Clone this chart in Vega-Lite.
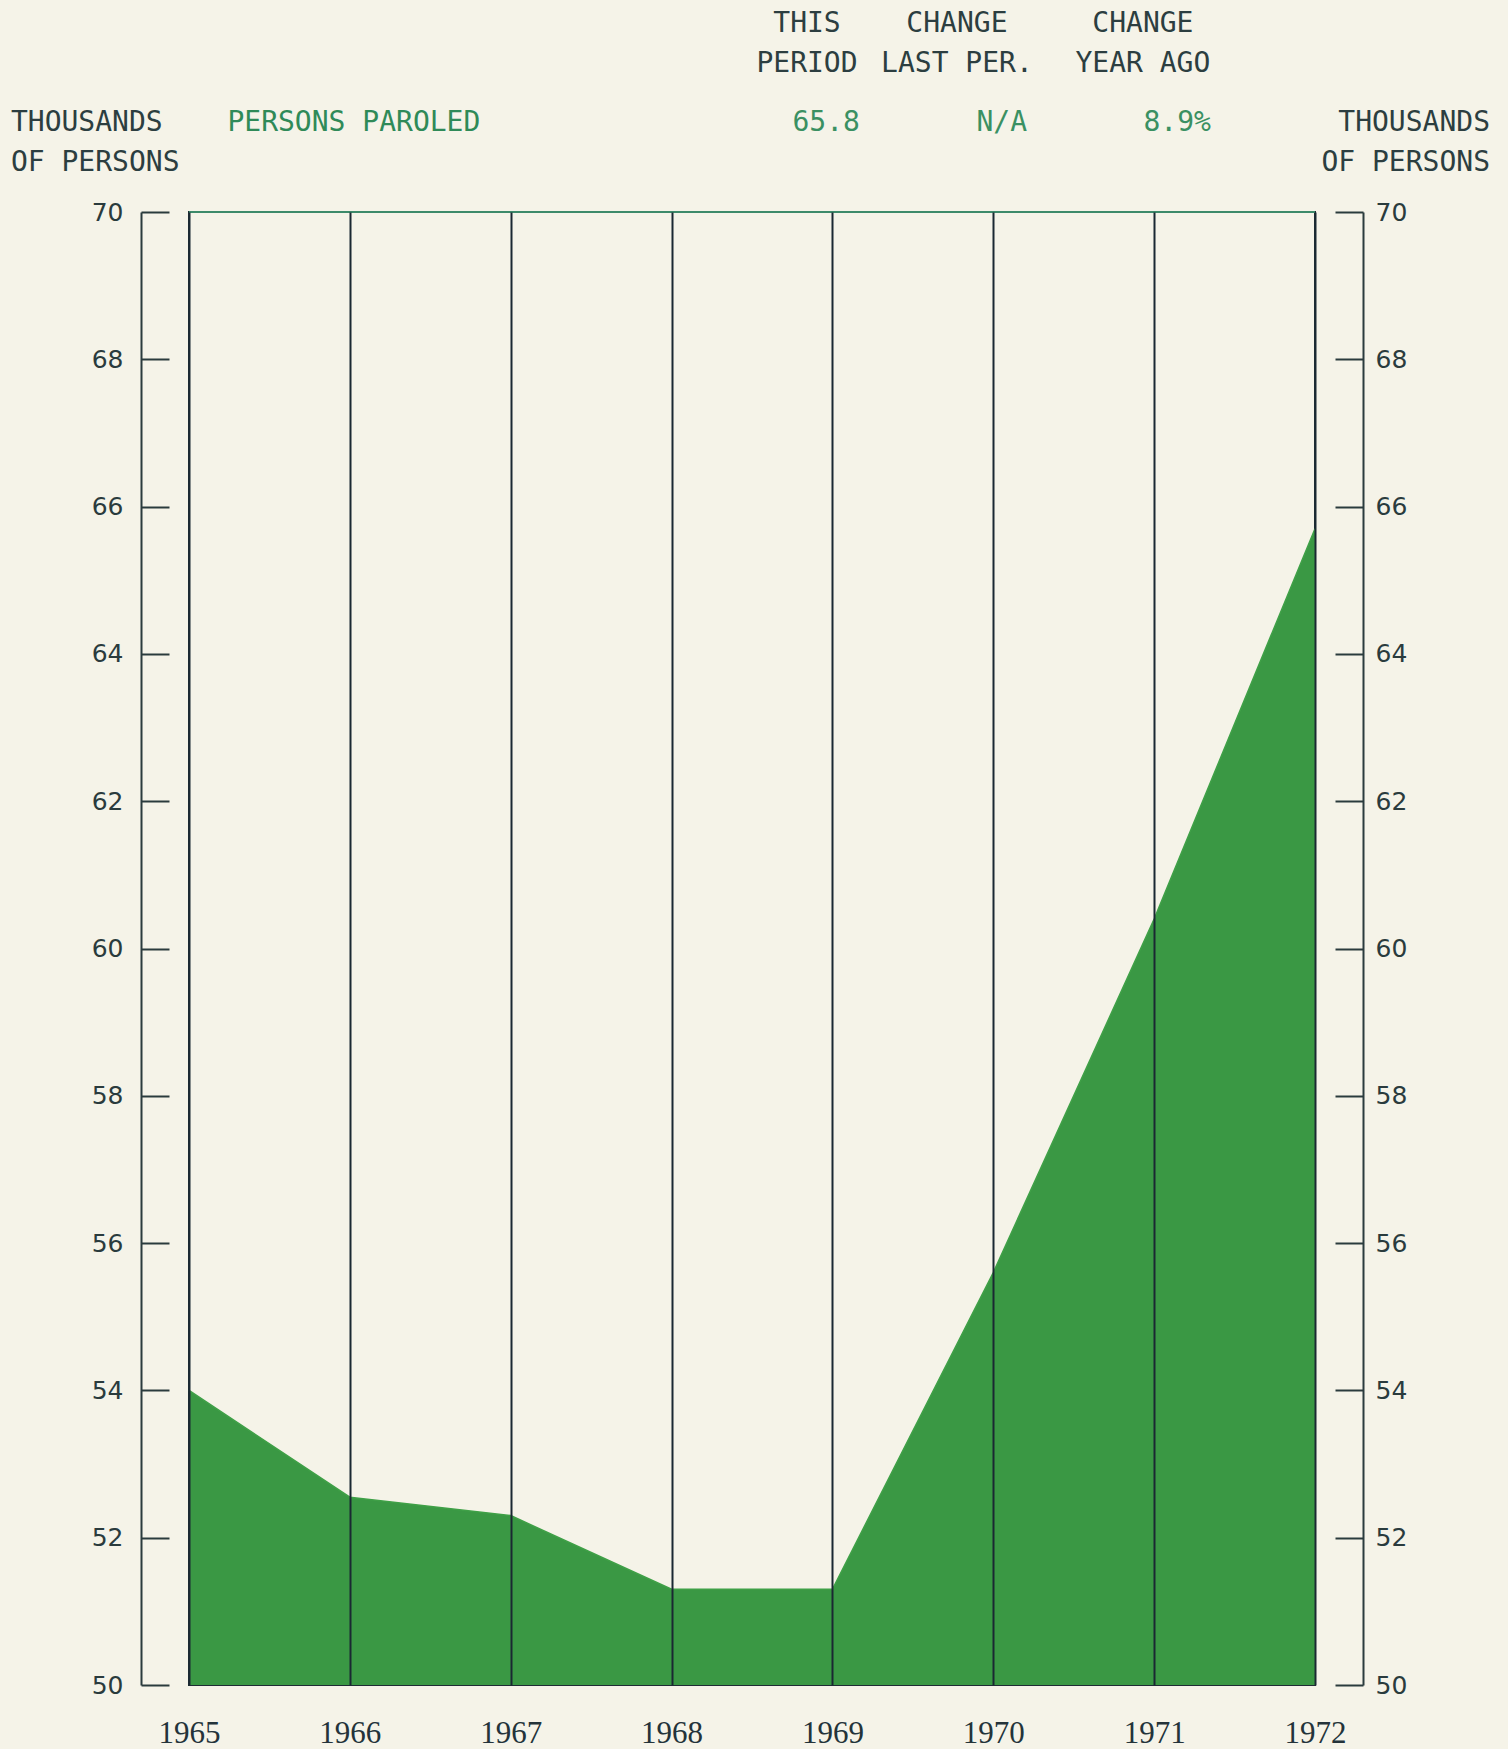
{
  "$schema": "https://vega.github.io/schema/vega-lite/v6.json",
  "autosize": "none",
  "width": 1126,
  "height": 1473,
  "padding": {"left": 189, "top": 212, "right": 193, "bottom": 64},
  "background": "#f5f3e8",
  "config": {
    "view": {"stroke": "#1e2c33", "strokeWidth": 2},
    "font": "DejaVu Sans"
  },
  "data": {
    "values": [
      {"year": 1965, "persons": 54.0},
      {"year": 1966, "persons": 52.55},
      {"year": 1967, "persons": 52.3},
      {"year": 1968, "persons": 51.3},
      {"year": 1969, "persons": 51.3},
      {"year": 1970, "persons": 55.6},
      {"year": 1971, "persons": 60.4},
      {"year": 1972, "persons": 65.7}
    ]
  },
  "resolve": {"axis": {"y": "independent"}},
  "layer": [
    {
      "mark": {"type": "area", "color": "#3a9844", "opacity": 1},
      "encoding": {
        "x": {
          "field": "year", "type": "quantitative",
          "scale": {"domain": [1965, 1972], "nice": false, "zero": false},
          "axis": {
            "values": [1965, 1966, 1967, 1968, 1969, 1970, 1971, 1972],
            "format": "d", "title": null, "grid": true, "gridColor": "#1a2832", "gridWidth": 2,
            "gridOpacity": 1, "domain": false, "ticks": false, "zindex": 1,
            "labelFont": "Liberation Serif", "labelFontSize": 31, "labelFontWeight": 500, "labelColor": "#24333a",
            "labelBaseline": "middle", "labelPadding": 48, "labelFlush": false
          }
        },
        "y": {
          "field": "persons", "type": "quantitative",
          "scale": {"domain": [50, 70], "nice": false, "zero": false},
          "axis": {
            "orient": "left", "offset": 48, "title": null, "grid": false,
            "values": [50, 52, 54, 56, 58, 60, 62, 64, 66, 68, 70],
            "domainColor": "#2a3b3d", "domainWidth": 2,
            "tickColor": "#2a3b3d", "tickWidth": 2, "tickSize": -28,
            "labelFont": "DejaVu Sans", "labelFontSize": 25, "labelColor": "#2a3b3d",
            "labelPadding": 46, "labelFlush": false
          }
        },
        "y2": {"datum": 50}
      }
    },
    {
      "mark": {"type": "line", "color": "#3fa047", "strokeWidth": 1.5},
      "encoding": {
        "x": {"field": "year", "type": "quantitative"},
        "y": {
          "field": "persons", "type": "quantitative",
          "axis": {
            "orient": "right", "offset": 48, "title": null, "grid": false,
            "values": [50, 52, 54, 56, 58, 60, 62, 64, 66, 68, 70],
            "domainColor": "#2a3b3d", "domainWidth": 2,
            "tickColor": "#2a3b3d", "tickWidth": 2, "tickSize": -28,
            "labelFont": "DejaVu Sans", "labelFontSize": 25, "labelColor": "#2a3b3d",
            "labelPadding": 40, "labelFlush": false
          }
        }
      }
    },
    {
      "data": {"values": [{}]},
      "mark": {"type": "rule", "color": "#3d8a6a", "strokeWidth": 2},
      "encoding": {"y": {"datum": 70, "axis": null}}
    },
    {
      "data": {"values": [{}]},
      "mark": {"type": "text", "font": "DejaVu Sans Mono", "fontSize": 28, "color": "#2c3e40", "align": "center", "baseline": "middle", "lineBreak": "\n", "lineHeight": 40, "text": "THIS\nPERIOD"},
      "encoding": {"x": {"datum": 1968.842}, "y": {"datum": 72.546, "axis": null}}
    },
    {
      "data": {"values": [{}]},
      "mark": {"type": "text", "font": "DejaVu Sans Mono", "fontSize": 28, "color": "#2c3e40", "align": "center", "baseline": "middle", "lineBreak": "\n", "lineHeight": 40, "text": "CHANGE\nLAST PER."},
      "encoding": {"x": {"datum": 1969.774}, "y": {"datum": 72.546, "axis": null}}
    },
    {
      "data": {"values": [{}]},
      "mark": {"type": "text", "font": "DejaVu Sans Mono", "fontSize": 28, "color": "#2c3e40", "align": "center", "baseline": "middle", "lineBreak": "\n", "lineHeight": 40, "text": "CHANGE\nYEAR AGO"},
      "encoding": {"x": {"datum": 1970.93}, "y": {"datum": 72.546, "axis": null}}
    },
    {
      "data": {"values": [{}]},
      "mark": {"type": "text", "font": "DejaVu Sans Mono", "fontSize": 28, "color": "#2c3e40", "align": "left", "baseline": "middle", "lineBreak": "\n", "lineHeight": 40, "text": "THOUSANDS\nOF PERSONS"},
      "encoding": {"x": {"datum": 1963.893}, "y": {"datum": 71.212, "axis": null}}
    },
    {
      "data": {"values": [{}]},
      "mark": {"type": "text", "font": "DejaVu Sans Mono", "fontSize": 28, "color": "#2c3e40", "align": "right", "baseline": "middle", "lineBreak": "\n", "lineHeight": 40, "text": "THOUSANDS\nOF PERSONS"},
      "encoding": {"x": {"datum": 1973.088}, "y": {"datum": 71.212, "axis": null}}
    },
    {
      "data": {"values": [{}]},
      "mark": {"type": "text", "font": "DejaVu Sans Mono", "fontSize": 28, "color": "#2f8a58", "align": "left", "baseline": "middle", "text": "PERSONS PAROLED"},
      "encoding": {"x": {"datum": 1965.239}, "y": {"datum": 71.212, "axis": null}}
    },
    {
      "data": {"values": [{}]},
      "mark": {"type": "text", "font": "DejaVu Sans Mono", "fontSize": 28, "color": "#3a9062", "align": "right", "baseline": "middle", "text": "65.8"},
      "encoding": {"x": {"datum": 1969.171}, "y": {"datum": 71.212, "axis": null}}
    },
    {
      "data": {"values": [{}]},
      "mark": {"type": "text", "font": "DejaVu Sans Mono", "fontSize": 28, "color": "#3a9062", "align": "right", "baseline": "middle", "text": "N/A"},
      "encoding": {"x": {"datum": 1970.21}, "y": {"datum": 71.212, "axis": null}}
    },
    {
      "data": {"values": [{}]},
      "mark": {"type": "text", "font": "DejaVu Sans Mono", "fontSize": 28, "color": "#3a9062", "align": "right", "baseline": "middle", "text": "8.9%"},
      "encoding": {"x": {"datum": 1971.353}, "y": {"datum": 71.212, "axis": null}}
    }
  ]
}
